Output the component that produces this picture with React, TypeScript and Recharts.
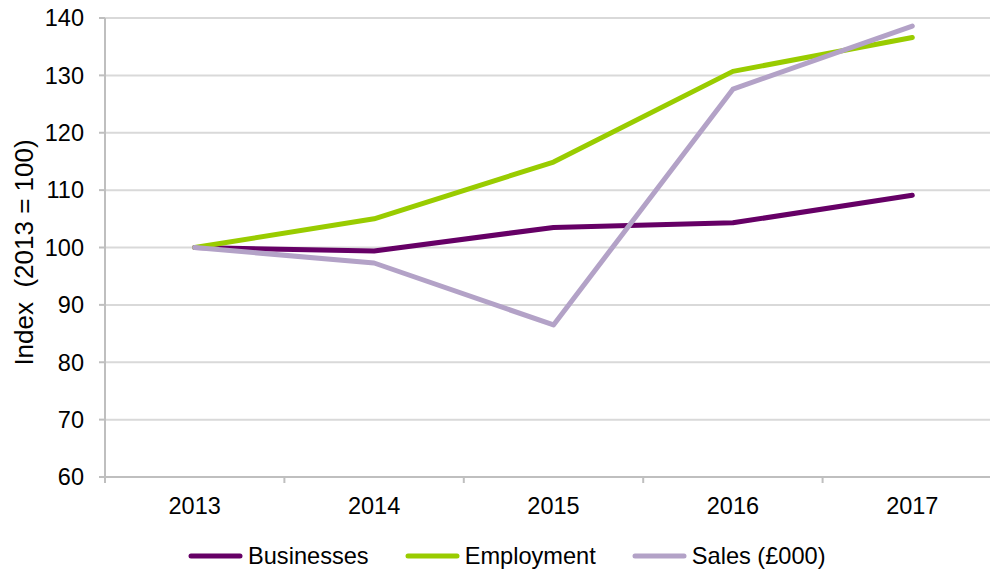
import React from "react";
import { LineChart, Line, XAxis, YAxis, CartesianGrid, Legend, Label } from "recharts";

const categories = ["2013", "2014", "2015", "2016", "2017"];
const businesses = [100, 99.4, 103.5, 104.3, 109.1];
const employment = [100, 105.0, 114.9, 130.7, 136.6];
const sales = [100, 97.3, 86.5, 127.6, 138.6];
const yTicks = [60, 70, 80, 90, 100, 110, 120, 130, 140];
const xTicks = [-0.5, 0, 0.5, 1, 1.5, 2, 2.5, 3, 3.5, 4, 4.5];

const seriesNames = ["Businesses", "Employment", "Sales (£000)"];
const seriesColors = ["#660066", "#99cc00", "#b3a2c7"];

const data = categories.map((c, i) => ({
  i,
  year: c,
  businesses: businesses[i],
  employment: employment[i],
  sales: sales[i],
}));

const FONT = "'Liberation Sans', Arial, sans-serif";

const XTick = (props: any) => {
  const { x, y, payload } = props;
  const v = payload.value;
  if (Number.isInteger(v)) {
    return (
      <text x={x} y={y + 14} dy="0.71em" textAnchor="middle" fontSize={23.5} fontFamily={FONT} fill="#000">
        {categories[v]}
      </text>
    );
  }
  return <line x1={x} x2={x} y1={y - 6} y2={y} stroke="#bfbfbf" strokeWidth={2} />;
};

const LegendContent = (props: any) => {
  const { payload } = props;
  return (
    <div style={{ display: "flex", alignItems: "center", height: 34, paddingLeft: 188, fontFamily: FONT, fontSize: 23.6, color: "#000" }}>
      {(payload || []).map((p: any, idx: number) => (
        <div key={idx} style={{ display: "flex", alignItems: "center", marginRight: 36 }}>
          <svg width={55} height={6} style={{ display: "block" }}>
            <line x1={3} x2={52} y1={3} y2={3} stroke={p.color} strokeWidth={5} strokeLinecap="round" />
          </svg>
          <span style={{ marginLeft: 5, lineHeight: "26px" }}>{p.value}</span>
        </div>
      ))}
    </div>
  );
};

const YLabel = (props: any) => {
  const { viewBox } = props;
  const cx = 24;
  const cy = viewBox.y + viewBox.height / 2 + 5;
  return (
    <text
      x={cx}
      y={cy}
      transform={`rotate(-90 ${cx} ${cy})`}
      textAnchor="middle"
      dominantBaseline="central"
      fontSize={26}
      fontFamily={FONT}
      fill="#000"
      style={{ whiteSpace: "pre" }}
    >
      {"Index\u00a0 (2013 = 100)"}
    </text>
  );
};

export default function App() {
  return (
    <div style={{ position: "absolute", left: 0, top: 0, width: 990, height: 573, overflow: "hidden", background: "#fff" }}>
      <LineChart width={1010} height={573} data={data} margin={{ top: 18, right: 8, bottom: 0, left: 0 }}>
        <CartesianGrid vertical={false} stroke="#d9d9d9" strokeWidth={2} />
        <XAxis
          dataKey="i"
          type="number"
          domain={[-0.5, 4.5]}
          ticks={xTicks}
          interval={0}
          allowDataOverflow
          height={62}
          tickSize={6}
          tickMargin={0}
          tickLine={false}
          axisLine={{ stroke: "#bfbfbf", strokeWidth: 2 }}
          tick={<XTick />}
        />
        <YAxis
          domain={[60, 140]}
          ticks={yTicks}
          interval={0}
          width={105}
          tickSize={6}
          tickMargin={15}
          axisLine={{ stroke: "#bfbfbf", strokeWidth: 2 }}
          tickLine={{ stroke: "#bfbfbf", strokeWidth: 2 }}
          tick={{ fontSize: 23.5, fontFamily: FONT, fill: "#000" }}
        >
          <Label content={<YLabel />} />
        </YAxis>
        <Legend
          verticalAlign="bottom"
          wrapperStyle={{ left: 0, width: 990, height: 34 }}
          content={<LegendContent />}
        />
        <Line type="linear" dataKey="businesses" name={seriesNames[0]} stroke={seriesColors[0]} strokeWidth={5} dot={false} strokeLinecap="round" strokeLinejoin="round" isAnimationActive={false} />
        <Line type="linear" dataKey="employment" name={seriesNames[1]} stroke={seriesColors[1]} strokeWidth={5} dot={false} strokeLinecap="round" strokeLinejoin="round" isAnimationActive={false} />
        <Line type="linear" dataKey="sales" name={seriesNames[2]} stroke={seriesColors[2]} strokeWidth={5} dot={false} strokeLinecap="round" strokeLinejoin="round" isAnimationActive={false} />
      </LineChart>
    </div>
  );
}
